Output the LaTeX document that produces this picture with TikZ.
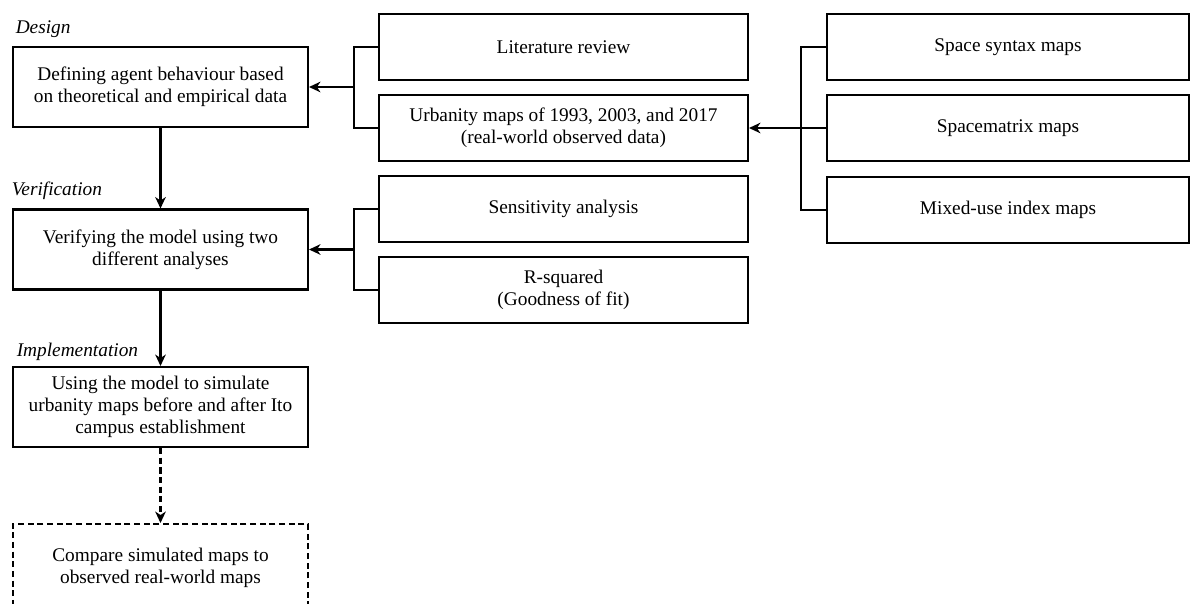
\documentclass[tikz,border=0pt]{standalone}
\usepackage{fontspec}
\setmainfont{Liberation Serif}
\usetikzlibrary{arrows.meta}
\begin{document}
\begin{tikzpicture}[line width=1.15pt, >={Stealth[length=6.5pt,width=6pt,inset=2pt]},
  every node/.style={font=\fontsize{11}{12.6}\selectfont},
  stage node/.style={rectangle,draw,align=center,minimum width=5.9cm,minimum height=1.6cm,inner sep=2pt},
  input node/.style={rectangle,draw,align=center,minimum width=7.38cm,minimum height=1.32cm,inner sep=2pt},
  source node/.style={rectangle,draw,align=center,minimum width=7.24cm,minimum height=1.32cm,inner sep=2pt},
  stage label/.style={anchor=south west,inner sep=1pt,font=\fontsize{11}{12.6}\selectfont\itshape},
  dash line/.style={dash pattern=on 3.5pt off 2pt}]
\useasboundingbox (0,0) rectangle (23.82,-12.06);
\clip (0,0) rectangle (23.82,-12.06);
\begin{scope}
\node[stage node] (design) at (3.21,-1.74) {Defining agent behaviour based\\on theoretical and empirical data};
\node[stage node] (verif) at (3.21,-4.99) {Verifying the model using two\\different analyses};
\node[stage node] (impl) at (3.21,-8.14) {Using the model to simulate\\urbanity maps before and after Ito\\campus establishment};
\node[stage node,dash line,minimum height=1.76cm] (compare) at (3.21,-11.36) {Compare simulated maps to\\observed real-world maps};
\node[stage label] (ldesign) at ([xshift=0.02cm,yshift=0.12cm]design.north west) {Design};
\node[stage label] (lverif) at ([xshift=-0.06cm,yshift=0.12cm]verif.north west) {Verification};
\node[stage label] (limpl) at ([xshift=0.04cm,yshift=0.06cm]impl.north west) {Implementation};
%\node[stage node] () at (,) {};
\end{scope}
\begin{scope}
\node[input node] (lit) at (11.27,-0.94) {Literature review};
\node[input node] (urb) at (11.27,-2.56) {Urbanity maps of 1993, 2003, and 2017\\(real-world observed data)};
\node[input node] (sens) at (11.27,-4.18) {Sensitivity analysis};
\node[input node] (rsq) at (11.27,-5.80) {R-squared\\(Goodness of fit)};
\node[source node] (space) at (20.16,-0.94) {Space syntax maps};
\node[source node] (smatrix) at (20.16,-2.56) {Spacematrix maps};
\node[source node] (mixed) at (20.16,-4.20) {Mixed-use index maps};
\end{scope}
\begin{scope}
\coordinate (j1) at (7.08,-1.74);
\coordinate (j2) at (16.02,-2.56);
\coordinate (j3) at (7.08,-4.99);
\draw (lit.west) -| (j1) |- (urb.west);
\draw[->] (j1) -- (design.east);
\draw (space.west) -| (j2) |- (mixed.west);
\draw (smatrix.west) -- (j2);
\draw[->] (j2) -- (urb.east);
\draw (sens.west) -| (j3) |- (rsq.west);
\draw[->] (j3) -- (verif.east);
\draw[->] (design) -- (verif);
\draw[->] (verif) -- (impl);
\draw[->,dash line] (impl) -- (compare);
%\draw (a) -- (b);
\end{scope}
\end{tikzpicture}
\end{document}
